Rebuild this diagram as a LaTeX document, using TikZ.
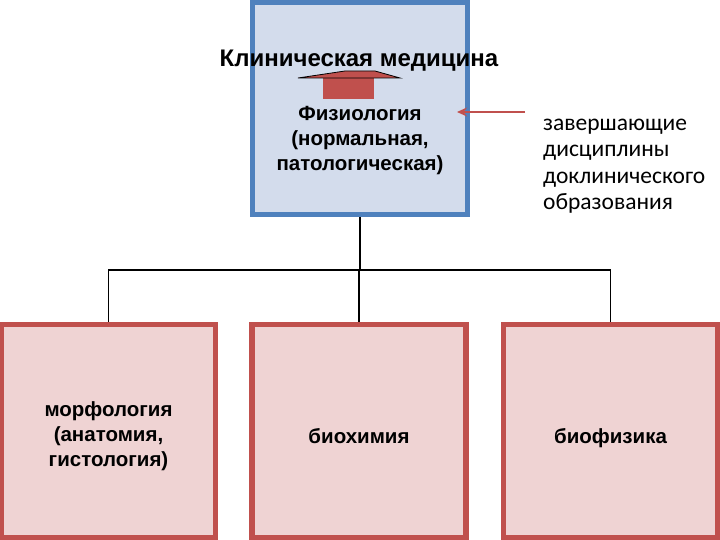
\documentclass[tikz,border=0pt]{standalone}
\usepackage{fontspec}
\setmainfont{Liberation Sans}
\newfontfamily\noteFont{Carlito}
\usetikzlibrary{arrows.meta}

\begin{document}
\begin{tikzpicture}[x=1pt, y=-1pt]
    % Define colours
    \definecolor{blueBorder}{HTML}{4F81BD}
    \definecolor{blueFill}{HTML}{D3DCEC}
    \definecolor{redBorder}{HTML}{C0504D}
    \definecolor{redFill}{HTML}{EFD3D3}

    % Styles for boxes, texts and connectors
    \tikzset{
        topBox/.style={draw=blueBorder, fill=blueFill, line width=5pt, minimum width=215pt, minimum height=212pt, inner sep=0pt},
        subjectBox/.style={draw=redBorder, fill=redFill, line width=5.5pt, minimum width=214pt, minimum height=213pt, inner sep=0pt},
        boldText/.style={align=center, inner sep=0pt, font=\bfseries\fontsize{#1}{25}\selectfont},
        subjectText/.style={boldText=20.5, yshift=-5pt},
        noteText/.style={align=left, inner sep=0pt, font=\noteFont\fontsize{23.5}{26.5}\selectfont},
        connector/.style={black, line width=1.6pt},
        noteArrow/.style={redBorder, line width=2.5pt, -{Stealth[length=10pt, width=9pt]}}
    }

    % Bounding box of the slide
    \useasboundingbox (0,0) rectangle (720,540);

    % The final discipline box
    \node[topBox] (physBox) at (360,108.5) {};
    \node[boldText=24, anchor=base] (clinic) at (359,67) {Клиническая медицина};
    \node[boldText=20.5] (physio) at (360,141) {Физиология\\(нормальная,\\патологическая)};

    % Block arrow up to clinical medicine
    \fill[redBorder] (323,77.5) rectangle (374,99);
    \filldraw[fill=redBorder, draw=black, line width=0.8pt] (298,78) -- (345,71) -- (375,71) -- (400,78) -- cycle;

    % Note on the right and its arrow
    \node[noteText, anchor=north west] (note) at (543,118.5) {завершающие\\дисциплины\\доклинического\\образования};
    \coordinate (noteTail) at (525,112);
    \coordinate (noteTip) at (457,112);
    \draw[noteArrow] (noteTail) -- (noteTip);

    % Preclinical subjects
    \node[subjectBox, label={[subjectText]center:морфология\\(анатомия,\\гистология)}] (morph) at (108.5,431) {};
    \node[subjectBox, label={[subjectText, text depth=0pt]center:биохимия}] (biochem) at (359,431) {};
    \node[subjectBox, label={[subjectText, text depth=0pt]center:биофизика}] (biophys) at (610.5,431) {};

    % Tree connectors
    \coordinate (busY) at (0,270);
    \draw[connector] (physBox.south) -- (physBox.south |- busY);
    \draw[connector] (morph.north) -- (morph.north |- busY) -- (biophys.north |- busY) -- (biophys.north);
    \draw[connector] (biochem.north) -- (biochem.north |- busY);

\end{tikzpicture}
\end{document}
